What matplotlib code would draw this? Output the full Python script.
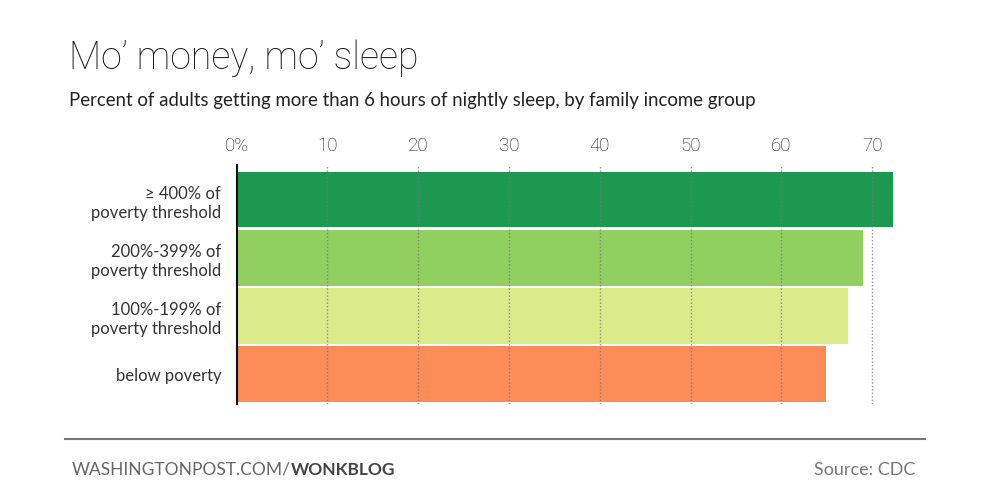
import matplotlib.pyplot as plt
import matplotlib as mpl
from matplotlib.lines import Line2D

mpl.rcParams['font.family'] = ['Lato', 'DejaVu Sans']

# 데이터
groups = ['\u2265 400% of\npoverty threshold',
          '200%-399% of\npoverty threshold',
          '100%-199% of\npoverty threshold',
          'below poverty']
values = [72.3, 69.0, 67.3, 64.9]
colors = ['#1d9850', '#90cf60', '#dbeb8a', '#fc8d59']
ticks = [0, 10, 20, 30, 40, 50, 60, 70]
tick_labels = ['0%', '10', '20', '30', '40', '50', '60', '70']

fig = plt.figure(figsize=(10, 5.02), dpi=100)
ax = fig.add_axes([0.2365, 0.1932, 0.681, 0.4761])

pos = list(range(len(groups)))
ax.barh(pos, values, height=0.96, color=colors, zorder=1)

# 점선 격자
for t in ticks[1:]:
    ax.axvline(t, color='#777777', lw=1, ls=(0, (1, 1.5)), alpha=0.8, zorder=2)

ax.set_xlim(0, 75)
ax.set_ylim(3.52, -0.595)
ax.xaxis.tick_top()
ax.set_xticks(ticks)
ax.set_xticklabels(tick_labels, fontsize=13.5, color='#1a1a1a',
                   family=['Roboto', 'DejaVu Sans'], fontweight='light')
ax.set_yticks(pos)
ax.set_yticklabels(groups, fontsize=12, color='#333333', linespacing=1.25)
ax.tick_params(axis='both', length=0)
ax.tick_params(axis='x', pad=8)
ax.tick_params(axis='y', pad=11)

for s in ['top', 'right', 'bottom']:
    ax.spines[s].set_visible(False)
ax.spines['left'].set_linewidth(1.5)
ax.spines['left'].set_color('#111111')
ax.spines['left'].set_zorder(3)

# 제목
fig.text(0.069, 0.8625, 'Mo\u2019 money, mo\u2019 sleep', fontsize=27,
         family=['Roboto', 'DejaVu Sans'], fontweight='light',
         color='#1a1a1a', va='baseline')
fig.text(0.069, 0.788,
         'Percent of adults getting more than 6 hours of nightly sleep, by family income group',
         fontsize=13.4, color='#222222', va='baseline')

# 하단
fig.add_artist(Line2D([0.065, 0.925], [0.1235, 0.1235], color='#777777', lw=1.5,
                      transform=fig.transFigure))
t1 = fig.text(0.072, 0.054, 'WASHINGTONPOST.COM/', fontsize=12.5, color='#666666',
              va='baseline')
plt.annotate('WONKBLOG', xy=(1, 0), xycoords=t1, fontsize=12.5, color='#444444',
             fontweight='bold', va='bottom')
fig.text(0.915, 0.054, 'Source: CDC', fontsize=13, color='#777777',
         ha='right', va='baseline')

plt.savefig('out.png', dpi=100)
